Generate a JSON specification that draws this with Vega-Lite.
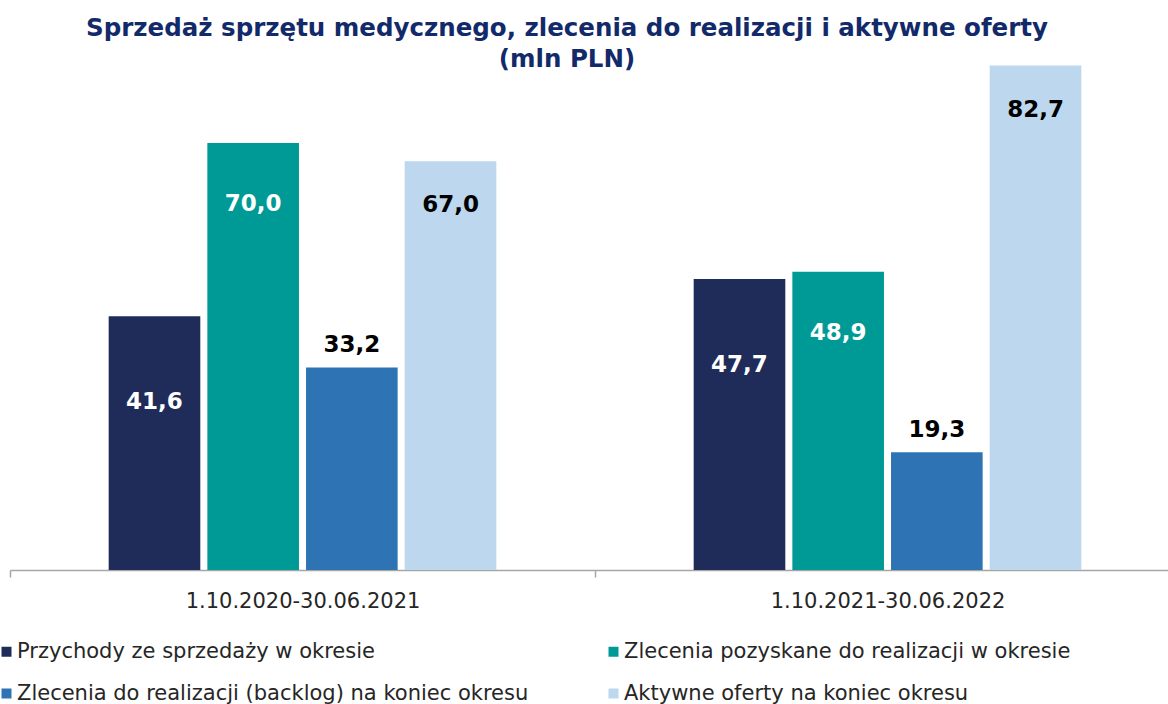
{
  "$schema": "https://vega.github.io/schema/vega-lite/v6.json",
  "width": 1158,
  "height": 492,
  "autosize": {"type": "none"},
  "padding": {"left": 10, "top": 78, "right": 0, "bottom": 134},
  "background": "#ffffff",
  "title": {
    "text": ["Sprzedaż sprzętu medycznego, zlecenia do realizacji i aktywne oferty", "(mln PLN)"],
    "font": "DejaVu Sans",
    "fontSize": 24.5,
    "fontWeight": "bold",
    "color": "#132a6a",
    "anchor": "middle",
    "lineHeight": 31,
    "offset": -7,
    "dx": -22
  },
  "data": {
    "values": [
      {"period": "1.10.2020-30.06.2021", "series": "Przychody ze sprzedaży w okresie", "value": 41.6},
      {"period": "1.10.2020-30.06.2021", "series": "Zlecenia pozyskane do realizacji w okresie", "value": 70.0},
      {"period": "1.10.2020-30.06.2021", "series": "Zlecenia do realizacji (backlog) na koniec okresu", "value": 33.2},
      {"period": "1.10.2020-30.06.2021", "series": "Aktywne oferty na koniec okresu", "value": 67.0},
      {"period": "1.10.2021-30.06.2022", "series": "Przychody ze sprzedaży w okresie", "value": 47.7},
      {"period": "1.10.2021-30.06.2022", "series": "Zlecenia pozyskane do realizacji w okresie", "value": 48.9},
      {"period": "1.10.2021-30.06.2022", "series": "Zlecenia do realizacji (backlog) na koniec okresu", "value": 19.3},
      {"period": "1.10.2021-30.06.2022", "series": "Aktywne oferty na koniec okresu", "value": 82.7}
    ]
  },
  "encoding": {
    "x": {
      "field": "period",
      "type": "nominal",
      "sort": null,
      "title": null,
      "scale": {"paddingInner": 0, "paddingOuter": 0, "range": [0, 1170]},
      "axis": {
        "labelAngle": 0,
        "labelFont": "DejaVu Sans",
        "labelFontSize": 21,
        "labelColor": "#262626",
        "labelPadding": 13,
        "labelLimit": 500,
        "tickBand": "extent",
        "tickSize": 7,
        "tickColor": "#a6a6a6",
        "domainColor": "#a6a6a6",
        "domainWidth": 1.5,
        "tickWidth": 1.5
      }
    },
    "xOffset": {
      "field": "series",
      "type": "nominal",
      "sort": ["Przychody ze sprzedaży w okresie", "Zlecenia pozyskane do realizacji w okresie", "Zlecenia do realizacji (backlog) na koniec okresu", "Aktywne oferty na koniec okresu"],
      "scale": {"paddingInner": 0.0714, "paddingOuter": 1.02}
    },
    "y": {
      "field": "value",
      "type": "quantitative",
      "scale": {"domain": [0, 80.66], "nice": false, "zero": true},
      "axis": null
    }
  },
  "layer": [
    {
      "mark": {"type": "bar"},
      "encoding": {
        "color": {
          "field": "series",
          "type": "nominal",
          "sort": ["Przychody ze sprzedaży w okresie", "Zlecenia pozyskane do realizacji w okresie", "Zlecenia do realizacji (backlog) na koniec okresu", "Aktywne oferty na koniec okresu"],
          "scale": {
            "domain": ["Przychody ze sprzedaży w okresie", "Zlecenia pozyskane do realizacji w okresie", "Zlecenia do realizacji (backlog) na koniec okresu", "Aktywne oferty na koniec okresu"],
            "range": ["#1f2c59", "#009a96", "#2e74b5", "#bdd7ee"]
          },
          "legend": {
            "title": null,
            "orient": "none",
            "legendX": -14,
            "legendY": 563,
            "direction": "horizontal",
            "columns": 2,
            "columnPadding": 74,
            "rowPadding": 20,
            "symbolType": "square",
            "symbolSize": 100,
            "symbolStrokeWidth": 0,
            "labelFont": "DejaVu Sans",
            "labelFontSize": 21,
            "labelColor": "#262626",
            "labelOffset": 0,
            "labelLimit": 0
          }
        }
      }
    },
    {
      "transform": [{"filter": "datum.series === 'Przychody ze sprzedaży w okresie'"}],
      "mark": {"type": "text", "font": "DejaVu Sans", "fontSize": 23, "fontWeight": "bold", "color": "#ffffff", "baseline": "middle", "dy": 86},
      "encoding": {"text": {"field": "value", "type": "quantitative", "format": ".1f"}}
    },
    {
      "transform": [{"filter": "datum.series === 'Zlecenia pozyskane do realizacji w okresie'"}],
      "mark": {"type": "text", "font": "DejaVu Sans", "fontSize": 23, "fontWeight": "bold", "color": "#ffffff", "baseline": "middle", "dy": 61},
      "encoding": {"text": {"field": "value", "type": "quantitative", "format": ".1f"}}
    },
    {
      "transform": [{"filter": "datum.series === 'Zlecenia do realizacji (backlog) na koniec okresu'"}],
      "mark": {"type": "text", "font": "DejaVu Sans", "fontSize": 23, "fontWeight": "bold", "color": "#000000", "baseline": "middle", "dy": -22},
      "encoding": {"text": {"field": "value", "type": "quantitative", "format": ".1f"}}
    },
    {
      "transform": [{"filter": "datum.series === 'Aktywne oferty na koniec okresu'"}],
      "mark": {"type": "text", "font": "DejaVu Sans", "fontSize": 23, "fontWeight": "bold", "color": "#000000", "baseline": "middle", "dy": 44},
      "encoding": {"text": {"field": "value", "type": "quantitative", "format": ".1f"}}
    }
  ],
  "config": {
    "view": {"stroke": null},
    "locale": {"number": {"decimal": ",", "thousands": " ", "grouping": [3], "currency": ["", " zł"]}}
  }
}
